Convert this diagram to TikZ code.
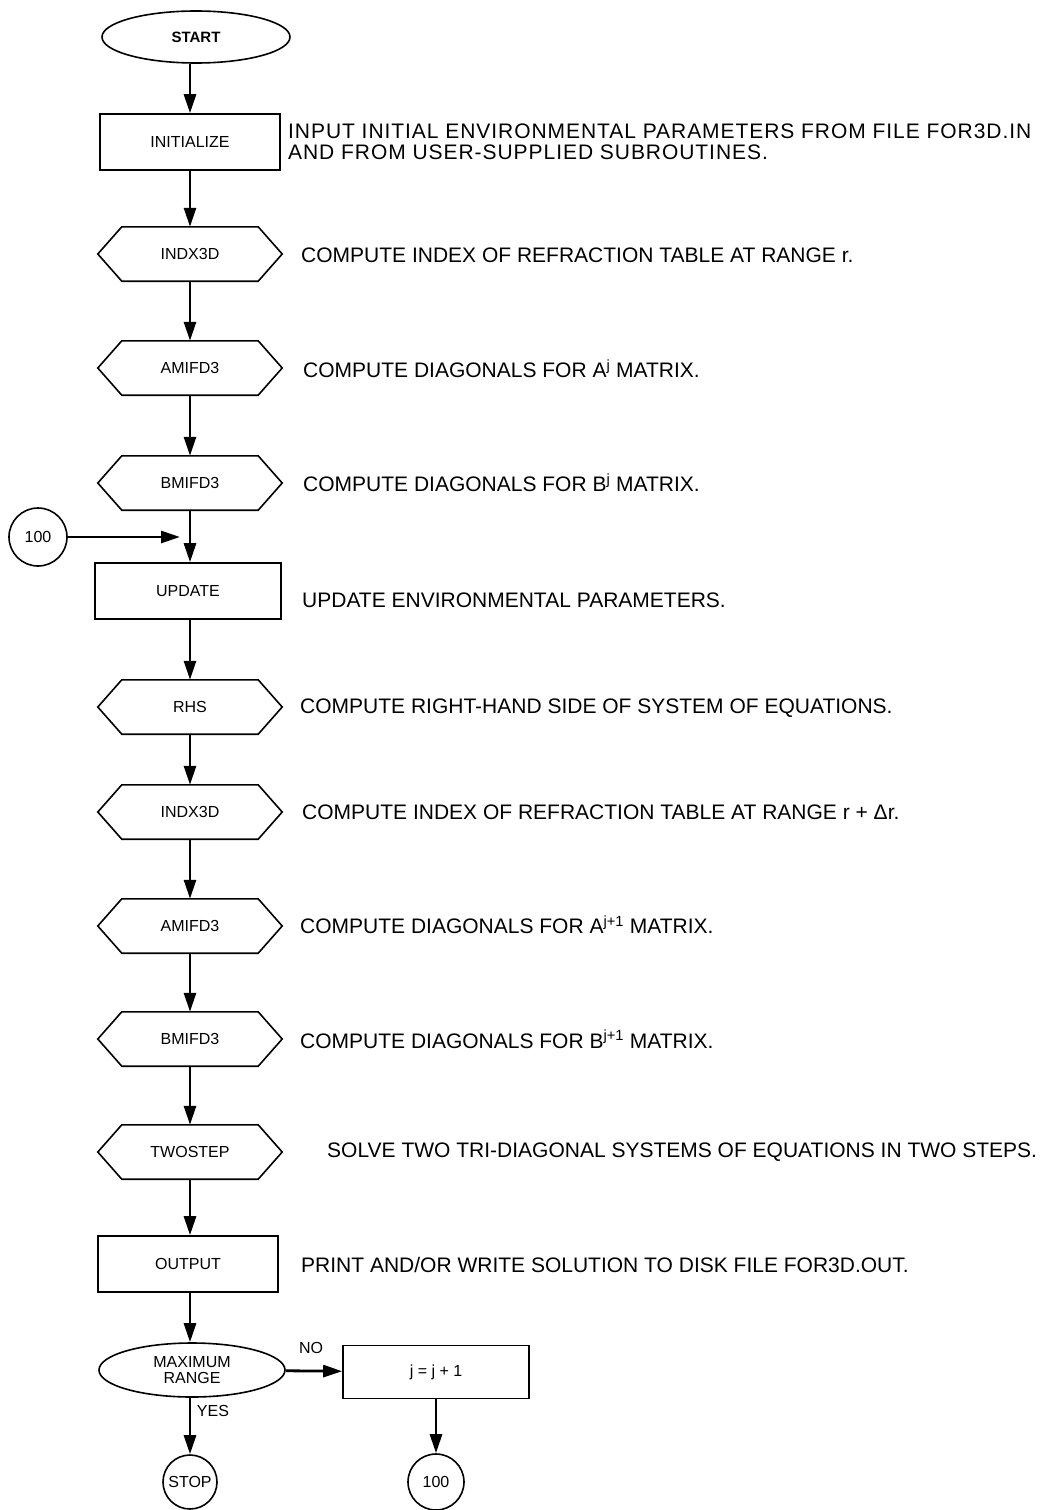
\documentclass[tikz,border=0pt]{standalone}
\usepackage{fontspec}
\setmainfont{Liberation Sans}
\usetikzlibrary{arrows.meta,shapes.geometric}
\begin{document}
\begin{tikzpicture}[x=1pt,y=-1pt,
  boxfont/.style={font=\fontsize{16}{18}\selectfont},
  rectbox/.style={draw,line width=1.6pt,minimum width=180pt,minimum height=56pt,boxfont,inner sep=0pt},
  hexcore/.style={minimum width=136pt,minimum height=54pt,boxfont,inner sep=0pt},
  hexline/.style={line width=1.6pt,line join=miter},
  ovalbox/.style={draw,ellipse,line width=1.6pt,minimum width=188pt,minimum height=52pt,boxfont,inner sep=0pt},
  circbox/.style={draw,circle,line width=1.6pt,minimum size=56pt,boxfont,inner sep=0pt},
  desc/.style={anchor=west,font=\fontsize{21}{21}\selectfont,align=left,inner sep=0pt},
  flow/.style={line width=2.8pt,-{Triangle[length=19pt,width=12pt]}},
  lab/.style={font=\fontsize{16}{18}\selectfont,inner sep=0pt}
]
\useasboundingbox (0,0) rectangle (1053,1510);
% nodes
\node[ovalbox,font=\fontsize{15}{17}\selectfont\bfseries] (start) at (196,37) {START};
\node[rectbox] (init) at (190,142) {INITIALIZE};
\node[hexcore] (h1) at (190,254) {INDX3D};
\node[hexcore] (h2) at (190,368) {AMIFD3};
\node[hexcore] (h3) at (190,483) {BMIFD3};
\node[rectbox,minimum width=186pt] (upd) at (188,591) {UPDATE};
\node[hexcore] (h4) at (190,707) {RHS};
\node[hexcore] (h5) at (190,812) {INDX3D};
\node[hexcore] (h6) at (190,926) {AMIFD3};
\node[hexcore] (h7) at (190,1039) {BMIFD3};
\node[hexcore] (h8) at (190,1152) {TWOSTEP};
\node[rectbox] (out) at (188,1264) {OUTPUT};
\node[ellipse,draw,line width=1.6pt,minimum width=186pt,minimum height=54pt,inner sep=0pt,boxfont,align=center] (max) at (192,1370) {MAXIMUM\\[-2pt]RANGE};
\node[rectbox,minimum width=186pt,minimum height=53pt] (inc) at (436,1372) {j = j + 1};
\node[circbox,minimum size=54pt] (stop) at (190,1482) {STOP};
\node[circbox] (c100b) at (436,1482) {100};
\node[circbox,minimum size=58pt] (c100a) at (38,537) {100};
\coordinate (join) at (180,537);
% hexagon outlines
\foreach \h in {h1,h2,h3,h4,h5,h6,h7,h8}{
  \draw[hexline] (\h.north west) -- (\h.north east) -- ([xshift=24pt]\h.east) -- (\h.south east) -- (\h.south west) -- ([xshift=-24pt]\h.west) -- cycle;
}
% connectors
\draw[flow] (start.south -| init.north) -- (init.north);
\draw[flow] (init) -- (h1);
\draw[flow] (h1) -- (h2);
\draw[flow] (h2) -- (h3);
\draw[flow] (h3.south) -- (h3.south |- upd.north);
\draw[flow] (c100a) -- (join);
\draw[flow] (upd.south -| h4.north) -- (h4.north);
\draw[flow] (h4) -- (h5);
\draw[flow] (h5) -- (h6);
\draw[flow] (h6) -- (h7);
\draw[flow] (h7) -- (h8);
\draw[flow] (h8.south) -- (h8.south |- out.north);
\draw[flow] (out.south -| h8.south) -- (max.north -| h8.south);
\draw[flow] (max) -- (inc);
\draw[flow] (max.south -| stop.north) -- (stop.north);
\draw[flow] (inc) -- (c100b);
\node[lab] (no) at (311,1348) {NO};
\node[lab] (yes) at (213,1411) {YES};
% descriptions
\node[desc,font=\fontsize{21}{21}\selectfont\addfontfeature{LetterSpace=4.5}] (d0) at (288,142) {INPUT INITIAL ENVIRONMENTAL PARAMETERS FROM FILE FOR3D.IN\\AND FROM USER-SUPPLIED SUBROUTINES.};
\node[desc] (d1) at (301,255) {COMPUTE INDEX OF REFRACTION TABLE AT RANGE r.};
\node[desc] (d2) at (303,369) {COMPUTE DIAGONALS FOR A\textsuperscript{j} MATRIX.};
\node[desc] (d3) at (303,483) {COMPUTE DIAGONALS FOR B\textsuperscript{j} MATRIX.};
\node[desc] (d4) at (302,600) {UPDATE ENVIRONMENTAL PARAMETERS.};
\node[desc] (d5) at (300,708) {COMPUTE RIGHT-HAND SIDE OF SYSTEM OF EQUATIONS.};
\node[desc] (d6) at (302,812) {COMPUTE INDEX OF REFRACTION TABLE AT RANGE r + Δr.};
\node[desc] (d7) at (300,925) {COMPUTE DIAGONALS FOR A\textsuperscript{j+1} MATRIX.};
\node[desc] (d8) at (300,1039) {COMPUTE DIAGONALS FOR B\textsuperscript{j+1} MATRIX.};
\node[desc] (d9) at (327,1152) {SOLVE TWO TRI-DIAGONAL SYSTEMS OF EQUATIONS IN TWO STEPS.};
\node[desc] (d10) at (301,1265) {PRINT AND/OR WRITE SOLUTION TO DISK FILE FOR3D.OUT.};
\end{tikzpicture}
\end{document}
